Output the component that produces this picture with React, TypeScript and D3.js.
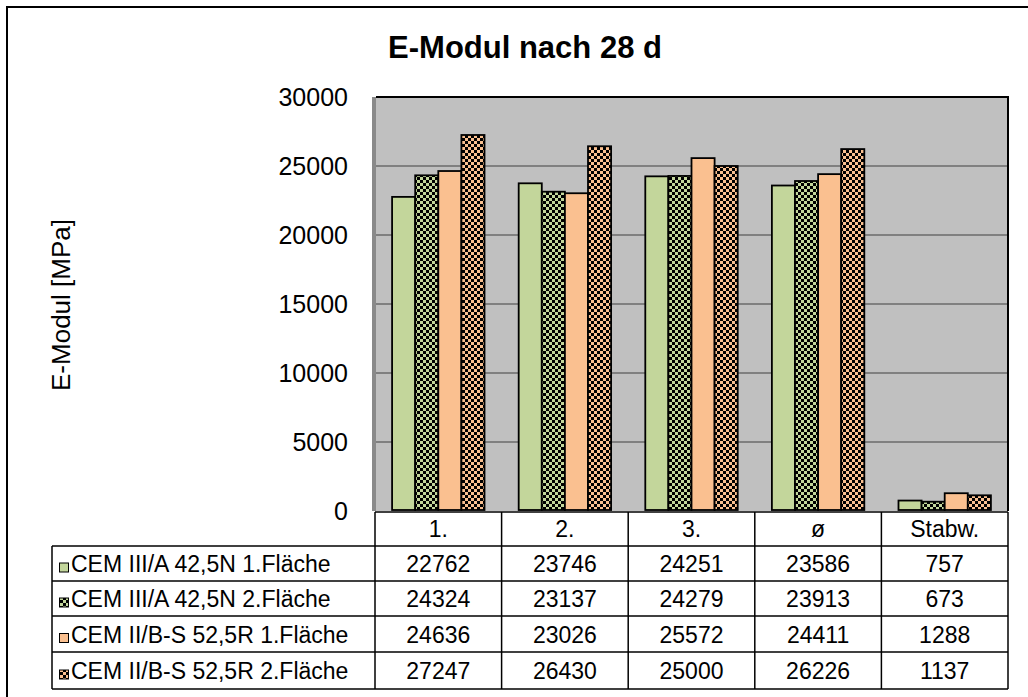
import React from 'react';
import * as d3 from 'd3';

const categories = ['1.', '2.', '3.', 'ø', 'Stabw.'];
const seriesNames = [
  'CEM III/A 42,5N 1.Fläche',
  'CEM III/A 42,5N 2.Fläche',
  'CEM II/B-S 52,5R 1.Fläche',
  'CEM II/B-S 52,5R 2.Fläche',
];
const s1 = [22762, 23746, 24251, 23586, 757];
const s2 = [24324, 23137, 24279, 23913, 673];
const s3 = [24636, 23026, 25572, 24411, 1288];
const s4 = [27247, 26430, 25000, 26226, 1137];
const yTicks = [0, 5000, 10000, 15000, 20000, 25000, 30000];

const seriesValues = [s1, s2, s3, s4];
const fills = ['#c3d69b', 'url(#chkGreen)', '#fac090', 'url(#chkPeach)'];

const W = 1028;
const H = 697;
const plot = { left: 375, right: 1008, top: 97, bottom: 511 };
const tableLeft = 52;
const rowLines = [546, 581, 616, 652, 689];
const font = 'Liberation Sans, Arial, sans-serif';

const App = () => {
  const y = d3.scaleLinear().domain([0, 30000]).range([plot.bottom, plot.top]);
  const x = d3.scaleBand<string>()
    .domain(categories)
    .range([plot.left, plot.right])
    .paddingInner(0.27)
    .paddingOuter(0.135);
  const x1 = d3.scaleBand<number>()
    .domain(d3.range(seriesNames.length))
    .range([0, x.bandwidth()]);
  const step = x.step();
  const colEdges = categories.map((_, i) => plot.left + i * step).concat([plot.right]);

  return (
    <svg width={W} height={H} style={{ position: 'absolute', left: 0, top: 0 }} fontFamily={font}>
      <defs>
        {[['chkGreen', '#c3d69b'], ['chkPeach', '#fac090']].map(([id, c]) => (
          <pattern key={id} id={id} width={6} height={6} patternUnits="userSpaceOnUse">
            <rect width={6} height={6} fill={c} />
            <rect width={3} height={3} fill="#000" />
            <rect x={3} y={3} width={3} height={3} fill="#000" />
          </pattern>
        ))}
      </defs>
      <rect x={0} y={0} width={W} height={H} fill="#fff" />
      <rect x={7} y={7} width={W + 20} height={H + 20} fill="none" stroke="#000" strokeWidth={2} />

      <text x={525} y={58} textAnchor="middle" fontSize={31} fontWeight="bold">E-Modul nach 28 d</text>

      {/* plot area */}
      <rect x={plot.left} y={plot.top} width={plot.right - plot.left} height={plot.bottom - plot.top} fill="#c0c0c0" />
      <rect x={372} y={plot.top} width={4} height={plot.bottom - plot.top} fill="#8a8a8a" />
      {yTicks.filter(t => t > 0 && t < 30000).map(t => (
        <line key={t} x1={376} x2={plot.right} y1={y(t)} y2={y(t)} stroke="#808080" strokeWidth={2} />
      ))}
      <line x1={376} x2={plot.right + 1} y1={plot.top} y2={plot.top} stroke="#000" strokeWidth={2} />
      <line x1={plot.right} x2={plot.right} y1={plot.top} y2={plot.bottom} stroke="#000" strokeWidth={2} />

      {yTicks.map(t => (
        <text key={t} x={348} y={y(t) + 9} textAnchor="end" fontSize={25}>{t}</text>
      ))}
      <text transform="translate(70,305) rotate(-90)" textAnchor="middle" fontSize={26}>E-Modul [MPa]</text>

      {/* bars */}
      {seriesValues.map((vals, si) => (
        <g key={si}>
          {vals.map((v, ci) => (
            <rect
              key={ci}
              x={(x(categories[ci]) ?? 0) + (x1(si) ?? 0)}
              y={y(v)}
              width={x1.bandwidth()}
              height={plot.bottom - 1 - y(v)}
              fill={fills[si]}
              stroke="#000"
              strokeWidth={1.8}
            />
          ))}
        </g>
      ))}

      {/* data table */}
      <g stroke="#000" strokeWidth={1.5}>
        <line x1={plot.left} x2={plot.right} y1={plot.bottom + 1} y2={plot.bottom + 1} />
        {rowLines.map(r => (
          <line key={r} x1={tableLeft} x2={plot.right} y1={r} y2={r} />
        ))}
        <line x1={tableLeft} x2={tableLeft} y1={rowLines[0]} y2={rowLines[rowLines.length - 1]} />
        {colEdges.map((cx, i) => (
          <line key={i} x1={cx} x2={cx} y1={plot.bottom + 1} y2={rowLines[rowLines.length - 1]} />
        ))}
      </g>
      {categories.map((c, i) => (
        <text key={c} x={colEdges[i] + step / 2} y={537} textAnchor="middle" fontSize={23}>{c}</text>
      ))}
      {seriesNames.map((name, si) => {
        const top = rowLines[si];
        const mid = (top + rowLines[si + 1]) / 2;
        return (
          <g key={name}>
            <rect x={59.5} y={mid - 0.5} width={9} height={9} fill={fills[si]} stroke="#000" strokeWidth={1} />
            <text x={71} y={mid + 8.5} fontSize={23}>{name}</text>
            {seriesValues[si].map((v, ci) => (
              <text key={ci} x={colEdges[ci] + step / 2} y={mid + 8.5} textAnchor="middle" fontSize={23}>{v}</text>
            ))}
          </g>
        );
      })}
    </svg>
  );
};

export default App;
